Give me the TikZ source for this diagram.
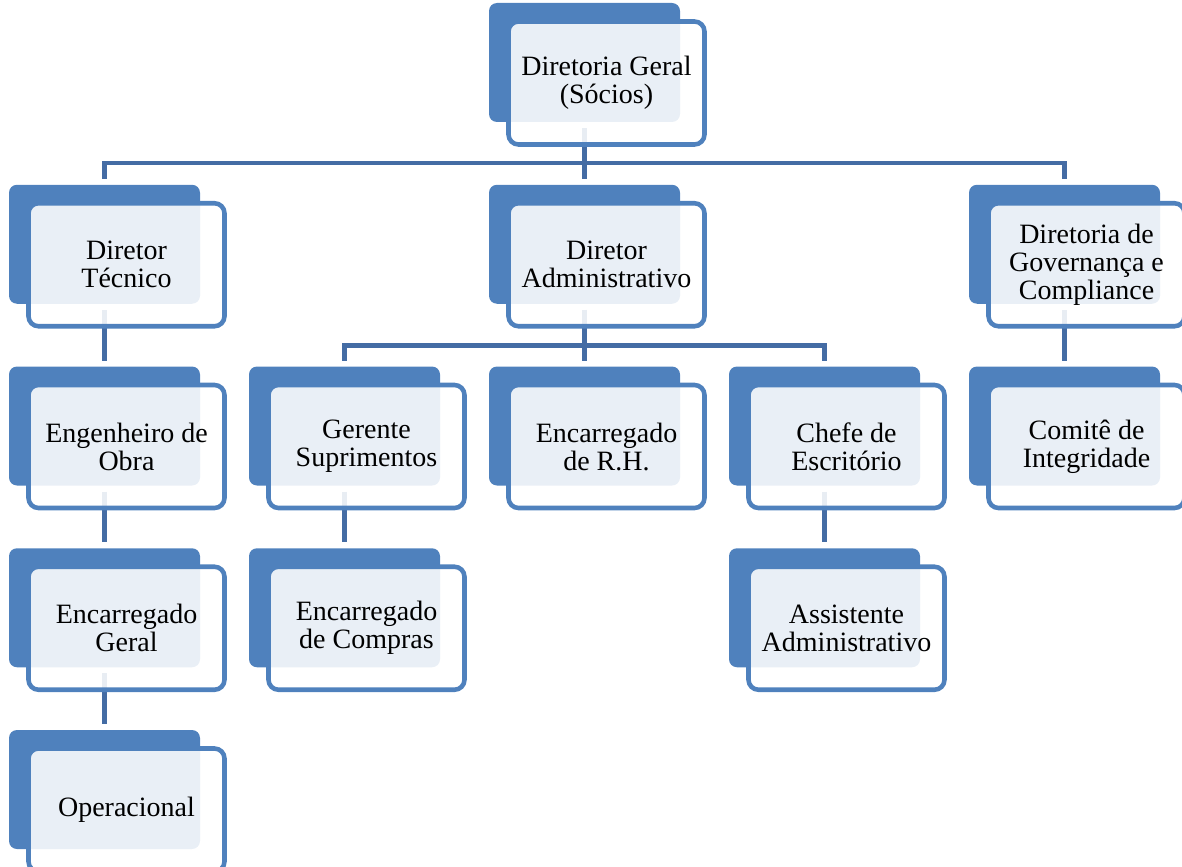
\documentclass[tikz,border=0pt]{standalone}
\usepackage{fontspec}
\setmainfont{Liberation Serif}
\definecolor{accent}{RGB}{79,129,189}
\definecolor{connc}{RGB}{68,108,164}
\pgfdeclarelayer{bg}
\pgfsetlayers{bg,main}
\newcommand\orgnode[4]{%
  \node[backbox] (#1) at (#2+95.5,#3+59.5) {};
  \node[frontbox] (#1f) at (#2+117.5,#3+80) {#4};}
\begin{document}
\begin{tikzpicture}[x=0.75pt,y=-0.75pt,
  backbox/.style={draw=none, fill=accent, rounded corners=6pt,
    minimum width=143.25pt, minimum height=89.25pt, inner sep=0pt, outer sep=0pt},
  frontbox/.style={draw=accent, line width=3.4pt, fill=white, fill opacity=0.88,
    text opacity=1, rounded corners=7.5pt, minimum width=147pt, minimum height=92.25pt,
    inner sep=0pt, align=center, font=\fontsize{21}{21}\selectfont},
  conn/.style={draw=connc, line width=3.4pt, shorten <=4.5pt, shorten >=4.5pt}
]
\useasboundingbox (0,0) rectangle (1182,867);
\orgnode{dg}{489}{3}{Diretoria Geral\\(Sócios)}
\orgnode{dt}{9}{184.75}{Diretor\\Técnico}
\orgnode{da}{489}{184.75}{Diretor\\Administrativo}
\orgnode{dgc}{969}{184.75}{Diretoria de\\Governança e\\Compliance}
\orgnode{eo}{9}{366.5}{Engenheiro de\\Obra}
\orgnode{gs}{249}{366.5}{Gerente\\Suprimentos}
\orgnode{rh}{489}{366.5}{Encarregado\\de R.H.}
\orgnode{ce}{729}{366.5}{Chefe de\\Escritório}
\orgnode{ci}{969}{366.5}{Comitê de\\Integridade}
\orgnode{eg}{9}{548.25}{Encarregado\\Geral}
\orgnode{ec}{249}{548.25}{Encarregado\\de Compras}
\orgnode{aa}{729}{548.25}{Assistente\\Administrativo}
\orgnode{op}{9}{730}{Operacional}
\begin{pgfonlayer}{bg}
  \draw[conn] (dg.south) -- ++(0,41) -| (dt.north);
  \draw[conn] (dg.south) -- (da.north);
  \draw[conn] (dg.south) -- ++(0,41) -| (dgc.north);
  \draw[conn] (da.south) -- ++(0,42) -| (gs.north);
  \draw[conn] (da.south) -- (rh.north);
  \draw[conn] (da.south) -- ++(0,42) -| (ce.north);
  \draw[conn] (dt.south) -- (eo.north);
  \draw[conn] (eo.south) -- (eg.north);
  \draw[conn] (eg.south) -- (op.north);
  \draw[conn] (gs.south) -- (ec.north);
  \draw[conn] (ce.south) -- (aa.north);
  \draw[conn] (dgc.south) -- (ci.north);
\end{pgfonlayer}
\end{tikzpicture}
\end{document}
